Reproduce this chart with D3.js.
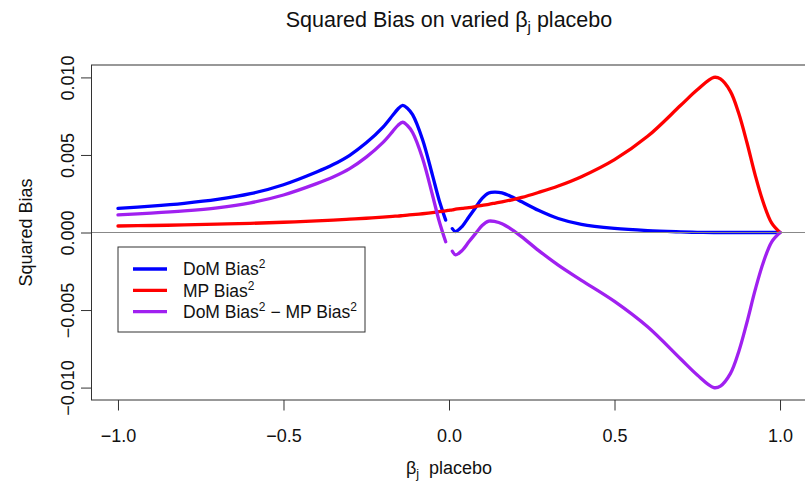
<!DOCTYPE html>
<html>
<head>
<meta charset="utf-8">
<script src="https://cdn.jsdelivr.net/npm/d3@7"></script>
<style>
  html, body { margin: 0; padding: 0; background: #fff; }
  svg { display: block; font-family: "Liberation Sans", Arial, Helvetica, sans-serif; }
  text { white-space: pre; }
</style>
</head>
<body>
<svg id="chart" width="805" height="481"></svg>
<script>
// beta_j placebo grid (the DoM curves have no value at 0)
const betaGrid = [-1, -0.9, -0.8, -0.7, -0.6, -0.5, -0.4, -0.35, -0.3, -0.25, -0.2, -0.17, -0.155, -0.14, -0.125, -0.11, -0.08, -0.05, -0.03, -0.01,
  0, 0.01, 0.02, 0.04, 0.06, 0.08, 0.1, 0.12, 0.14, 0.16, 0.19, 0.22, 0.27, 0.33, 0.4,
  0.5, 0.6, 0.7, 0.75, 0.8, 0.82, 0.85, 0.875, 0.9, 0.925, 0.95, 0.975, 1];

// DoM squared bias
const domBias2 = [0.00156, 0.0017, 0.00188, 0.00213, 0.0025, 0.00308, 0.0039, 0.00438, 0.00498, 0.00578, 0.00678, 0.00756, 0.00795, 0.0082, 0.0080, 0.0076, 0.0060, 0.0037, 0.0021, 0.0008,
  null, 0.00025, 0.00006, 0.0004, 0.001, 0.0016, 0.0022, 0.00255, 0.0026, 0.00255, 0.0023, 0.00198, 0.00143, 0.0009, 0.00052,
  0.00026, 0.00012, 0.00004, 0.00001, 0, 0, 0, 0, 0, 0, 0, 0, 0];

// MP squared bias
const mpBias2 = [0.00042, 0.00045, 0.00049, 0.00054, 0.00059, 0.00066, 0.00075, 0.0008, 0.00086, 0.00092, 0.00099, 0.00104, 0.00106, 0.00109, 0.00112, 0.00115, 0.00121, 0.00128, 0.00134, 0.0014,
  0.00143, 0.00146, 0.0015, 0.00155, 0.0016, 0.00167, 0.00175, 0.00182, 0.0019, 0.00198, 0.00211, 0.00226, 0.00258, 0.003, 0.0036,
  0.0047, 0.0062, 0.0082, 0.0092, 0.0100, 0.0099, 0.0091, 0.0077, 0.0058, 0.0037, 0.0019, 0.0006, 0];

// DoM squared bias minus MP squared bias
const diffBias2 = [0.00114, 0.00125, 0.00139, 0.00159, 0.00191, 0.00242, 0.00315, 0.00358, 0.00412, 0.00486, 0.00579, 0.00652, 0.00689, 0.00711, 0.00688, 0.00645, 0.00479, 0.00242, 0.00076, -0.0006,
  null, -0.00121, -0.00144, -0.00115, -0.0006, -0.00007, 0.00045, 0.00073, 0.0007, 0.00057, 0.00019, -0.00028, -0.00115, -0.0021, -0.00308,
  -0.00444, -0.00608, -0.00816, -0.00919, -0.0100, -0.0099, -0.0091, -0.0077, -0.0058, -0.0037, -0.0019, -0.0006, 0];

const xTicks = [-1.0, -0.5, 0.0, 0.5, 1.0];
const yTicks = [-0.010, -0.005, 0.000, 0.005, 0.010];

const seriesColors = ["#0000FF", "#FF0000", "#A020F0"];

const svg = d3.select("#chart");
const FONT = "Liberation Sans, Arial, Helvetica, sans-serif";

const x = d3.scaleLinear().domain([-1.08, 1.08]).range([91.5, 806.5]);
const y = d3.scaleLinear().domain([-0.0108, 0.0108]).range([400, 65]);

// title
const title = svg.append("text")
  .attr("x", 449).attr("y", 27)
  .attr("text-anchor", "middle")
  .attr("font-size", 21.5).attr("fill", "#111");
title.append("tspan").text("Squared Bias on varied β");
title.append("tspan").attr("font-size", 15).attr("dy", 5).text("j");
title.append("tspan").attr("dy", -5).text(" placebo");

// curves
const series = [domBias2, mpBias2, diffBias2];
series.forEach((vals, i) => {
  const pts = betaGrid.map((b, k) => [b, vals[k]]);
  const line = d3.line()
    .defined(d => d[1] !== null)
    .x(d => x(d[0]))
    .y(d => y(d[1]))
    .curve(d3.curveCatmullRom.alpha(0.5));
  svg.append("path")
    .datum(pts)
    .attr("d", line)
    .attr("fill", "none")
    .attr("stroke", seriesColors[i])
    .attr("stroke-width", 3.3)
    .attr("stroke-linecap", "round")
    .attr("stroke-linejoin", "round");
});

// zero reference line
svg.append("line")
  .attr("x1", x.range()[0]).attr("x2", x.range()[1])
  .attr("y1", y(0)).attr("y2", y(0))
  .attr("stroke", "#888").attr("stroke-width", 1);

// plot frame
svg.append("rect")
  .attr("x", 91.5).attr("y", 65)
  .attr("width", 715).attr("height", 335)
  .attr("fill", "none").attr("stroke", "#333").attr("stroke-width", 1);

// x axis
const gx = svg.append("g")
  .attr("transform", "translate(0,400)")
  .call(d3.axisBottom(x).tickValues(xTicks).tickSize(10.5).tickFormat(d3.format(".1f")));
gx.select(".domain").remove();
gx.selectAll(".tick line").attr("stroke", "#333");
gx.selectAll(".tick text")
  .attr("y", 42).attr("dy", null)
  .attr("font-size", 18).attr("fill", "#111")
  .attr("font-family", FONT);

// y axis
const gy = svg.append("g")
  .attr("transform", "translate(91.5,0)")
  .call(d3.axisLeft(y).tickValues(yTicks).tickSize(10.5).tickFormat(d3.format(".3f")));
gy.select(".domain").remove();
gy.selectAll(".tick line").attr("stroke", "#333");
gy.selectAll(".tick text")
  .attr("x", null).attr("dy", null)
  .attr("text-anchor", "middle")
  .attr("transform", "translate(-18,0) rotate(-90)")
  .attr("font-size", 18).attr("fill", "#111")
  .attr("font-family", FONT);

// axis titles
const xl = svg.append("text")
  .attr("x", 449).attr("y", 474)
  .attr("text-anchor", "middle")
  .attr("font-size", 18).attr("fill", "#111");
xl.append("tspan").text("β");
xl.append("tspan").attr("font-size", 12.6).attr("dy", 4).text("j");
xl.append("tspan").attr("dy", -4).text("  placebo");

svg.append("text")
  .attr("transform", "translate(32,232.5) rotate(-90)")
  .attr("text-anchor", "middle")
  .attr("font-size", 18).attr("fill", "#111")
  .text("Squared Bias");

// legend
const lg = svg.append("g");
lg.append("rect")
  .attr("x", 118).attr("y", 247).attr("width", 247).attr("height", 85)
  .attr("fill", "#fff").attr("stroke", "#333").attr("stroke-width", 1);

const legendRows = [
  [{t: "DoM Bias"}, {t: "2", sup: true}],
  [{t: "MP Bias"}, {t: "2", sup: true}],
  [{t: "DoM Bias"}, {t: "2", sup: true}, {t: " − MP Bias"}, {t: "2", sup: true}]
];
legendRows.forEach((parts, i) => {
  const yy = 269 + i * 21.3;
  lg.append("line")
    .attr("x1", 133).attr("x2", 167).attr("y1", yy).attr("y2", yy)
    .attr("stroke", seriesColors[i]).attr("stroke-width", 3.3);
  const t = lg.append("text")
    .attr("x", 183).attr("y", yy + 6.3)
    .attr("font-size", 17.5).attr("fill", "#111");
  let shifted = false;
  parts.forEach(p => {
    const ts = t.append("tspan").text(p.t);
    if (p.sup) { ts.attr("font-size", 12).attr("dy", -7); shifted = true; }
    else if (shifted) { ts.attr("dy", 7); shifted = false; }
  });
});
</script>
</body>
</html>
